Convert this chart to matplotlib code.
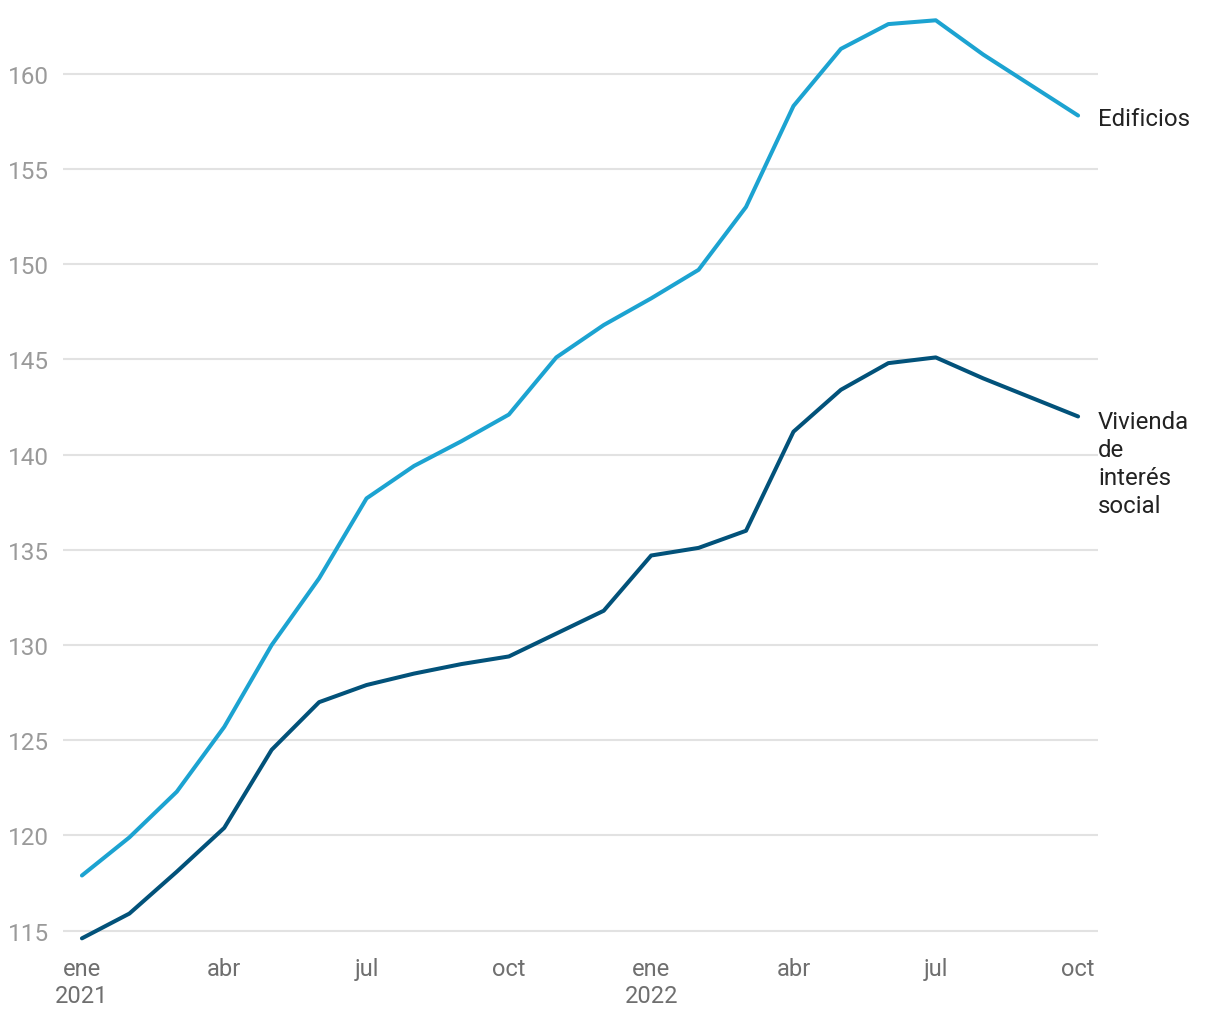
import matplotlib.pyplot as plt

plt.rcParams['font.family'] = ['Roboto', 'DejaVu Sans']

MONTHS = list(range(22))  # ene 2021 .. oct 2022
TICK_POS = [0, 3, 6, 9, 12, 15, 18, 21]
TICK_LABELS = ["ene\n2021", "abr", "jul", "oct", "ene\n2022", "abr", "jul", "oct"]

EDIFICIOS = [117.9, 119.9, 122.3, 125.7, 130.0, 133.5, 137.7, 139.4, 140.7, 142.1,
             145.1, 146.8, 148.2, 149.7, 153.0, 158.3, 161.3, 162.6, 162.8, 161.0,
             159.4, 157.8]
VIVIENDA = [114.6, 115.9, 118.1, 120.4, 124.5, 127.0, 127.9, 128.5, 129.0, 129.4,
            130.6, 131.8, 134.7, 135.1, 136.0, 141.2, 143.4, 144.8, 145.1, 144.0,
            143.0, 142.0]

C_EDIF = "#1ca3d1"
C_VIV = "#02527a"

fig = plt.figure(figsize=(12.2, 10.2), dpi=100)
ax = fig.add_axes([0.0516, 0.0716, 0.8484, 0.915])

ax.plot(MONTHS, EDIFICIOS, color=C_EDIF, linewidth=2.9, solid_capstyle="round", zorder=3)
ax.plot(MONTHS, VIVIENDA, color=C_VIV, linewidth=2.9, solid_capstyle="round", zorder=3)

ax.set_xlim(-0.4, 21.42)
ax.set_ylim(114.2, 163.2)
ax.set_yticks([115, 120, 125, 130, 135, 140, 145, 150, 155, 160])
ax.set_xticks(TICK_POS)
ax.set_xticklabels(TICK_LABELS)

ax.grid(axis="y", color="#e2e2e2", linewidth=1.5, zorder=0)
ax.grid(axis="x", visible=False)
for s in ax.spines.values():
    s.set_visible(False)
ax.tick_params(axis="y", length=0, pad=10, labelsize=17.5, labelcolor="#9a9a9a")
ax.tick_params(axis="x", length=0, pad=8, labelsize=17, labelcolor="#6f6f6f")

ax.annotate("Edificios", xy=(21, EDIFICIOS[-1]), xytext=(14.4, -2.5), textcoords="offset points",
            ha="left", va="center", fontsize=17.3, color="#222222", annotation_clip=False)
ax.annotate("Vivienda\nde\ninterés\nsocial", xy=(21, VIVIENDA[-1]), xytext=(14.4, 4.5),
            textcoords="offset points", ha="left", va="top", fontsize=17.3, color="#222222",
            linespacing=1.28, annotation_clip=False)

fig.savefig("out.png", dpi=100)
